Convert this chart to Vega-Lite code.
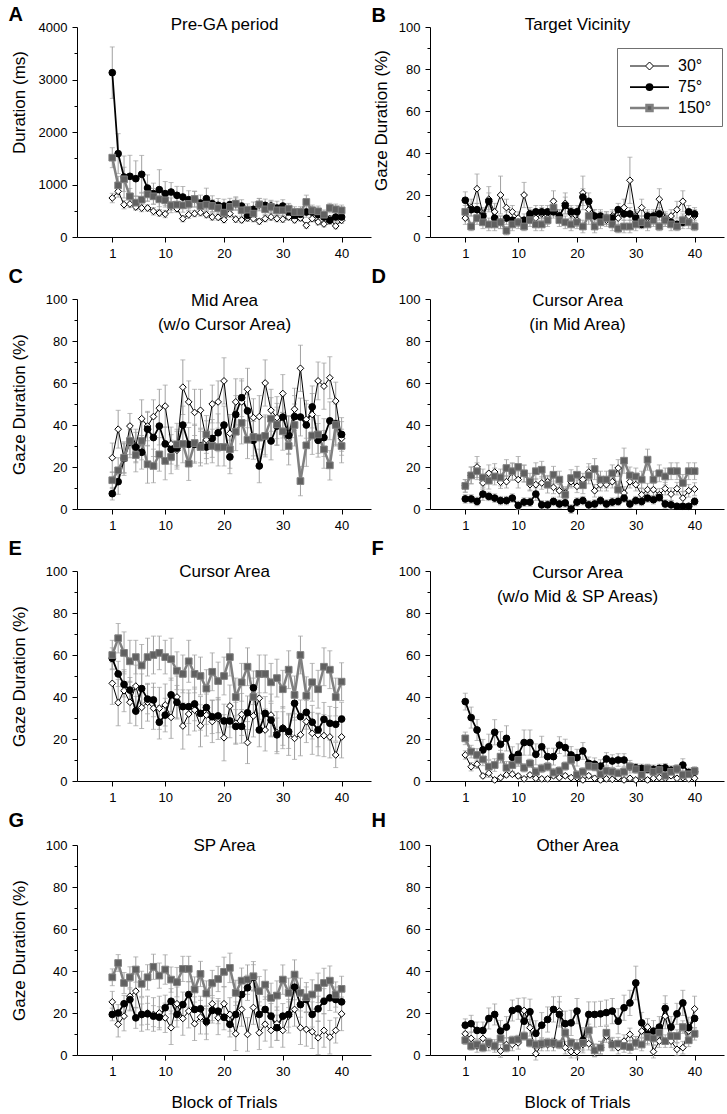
{
"$schema": "https://vega.github.io/schema/vega-lite/v6.json",
"background": "white",
"padding": {"left": 8, "top": 4, "right": 2, "bottom": 0},
"config": {
 "font": "Liberation Sans",
 "view": {"stroke": null},
 "axis": {"grid": false, "domainColor": "#000000", "tickColor": "#000000", "labelColor": "#000000", "titleColor": "#000000", "labelFontSize": 13, "titleFontSize": 17, "titleFontWeight": "normal", "tickSize": 5, "labelPadding": 5, "domainWidth": 1, "tickWidth": 1, "labelFont": "Liberation Sans", "titleFont": "Liberation Sans"}
},
"datasets": {
"A": [
{"s":"30°","b":1,"v":743,"e":90},{"s":"30°","b":2,"v":870,"e":110},{"s":"30°","b":3,"v":616,"e":80},{"s":"30°","b":4,"v":629,"e":70},{"s":"30°","b":5,"v":572,"e":60},{"s":"30°","b":6,"v":552,"e":70},{"s":"30°","b":7,"v":552,"e":60},{"s":"30°","b":8,"v":489,"e":70},{"s":"30°","b":9,"v":457,"e":60},{"s":"30°","b":10,"v":438,"e":70},
{"s":"30°","b":11,"v":590,"e":80},{"s":"30°","b":12,"v":540,"e":70},{"s":"30°","b":13,"v":349,"e":60},{"s":"30°","b":14,"v":425,"e":70},{"s":"30°","b":15,"v":445,"e":60},{"s":"30°","b":16,"v":464,"e":65},{"s":"30°","b":17,"v":425,"e":60},{"s":"30°","b":18,"v":381,"e":60},{"s":"30°","b":19,"v":375,"e":55},{"s":"30°","b":20,"v":330,"e":60},
{"s":"30°","b":21,"v":445,"e":70},{"s":"30°","b":22,"v":337,"e":60},{"s":"30°","b":23,"v":324,"e":55},{"s":"30°","b":24,"v":362,"e":60},{"s":"30°","b":25,"v":349,"e":60},{"s":"30°","b":26,"v":298,"e":55},{"s":"30°","b":27,"v":349,"e":60},{"s":"30°","b":28,"v":381,"e":65},{"s":"30°","b":29,"v":349,"e":60},{"s":"30°","b":30,"v":337,"e":60},
{"s":"30°","b":31,"v":381,"e":60},{"s":"30°","b":32,"v":324,"e":55},{"s":"30°","b":33,"v":362,"e":60},{"s":"30°","b":34,"v":222,"e":55},{"s":"30°","b":35,"v":349,"e":60},{"s":"30°","b":36,"v":286,"e":55},{"s":"30°","b":37,"v":248,"e":55},{"s":"30°","b":38,"v":349,"e":60},{"s":"30°","b":39,"v":210,"e":55},{"s":"30°","b":40,"v":318,"e":60},
{"s":"75°","b":1,"v":3130,"e":490},{"s":"75°","b":2,"v":1588,"e":380},{"s":"75°","b":3,"v":1143,"e":400},{"s":"75°","b":4,"v":1156,"e":400},{"s":"75°","b":5,"v":1111,"e":340},{"s":"75°","b":6,"v":1194,"e":360},{"s":"75°","b":7,"v":933,"e":250},{"s":"75°","b":8,"v":826,"e":200},{"s":"75°","b":9,"v":902,"e":380},{"s":"75°","b":10,"v":826,"e":230},
{"s":"75°","b":11,"v":857,"e":180},{"s":"75°","b":12,"v":794,"e":170},{"s":"75°","b":13,"v":762,"e":200},{"s":"75°","b":14,"v":711,"e":170},{"s":"75°","b":15,"v":718,"e":150},{"s":"75°","b":16,"v":648,"e":150},{"s":"75°","b":17,"v":730,"e":200},{"s":"75°","b":18,"v":635,"e":150},{"s":"75°","b":19,"v":603,"e":130},{"s":"75°","b":20,"v":590,"e":130},
{"s":"75°","b":21,"v":616,"e":120},{"s":"75°","b":22,"v":635,"e":130},{"s":"75°","b":23,"v":590,"e":120},{"s":"75°","b":24,"v":413,"e":110},{"s":"75°","b":25,"v":527,"e":140},{"s":"75°","b":26,"v":616,"e":120},{"s":"75°","b":27,"v":603,"e":120},{"s":"75°","b":28,"v":590,"e":110},{"s":"75°","b":29,"v":552,"e":130},{"s":"75°","b":30,"v":590,"e":120},
{"s":"75°","b":31,"v":476,"e":100},{"s":"75°","b":32,"v":413,"e":100},{"s":"75°","b":33,"v":432,"e":110},{"s":"75°","b":34,"v":476,"e":100},{"s":"75°","b":35,"v":476,"e":100},{"s":"75°","b":36,"v":425,"e":100},{"s":"75°","b":37,"v":381,"e":90},{"s":"75°","b":38,"v":318,"e":80},{"s":"75°","b":39,"v":381,"e":90},{"s":"75°","b":40,"v":381,"e":90},
{"s":"150°","b":1,"v":1511,"e":190},{"s":"150°","b":2,"v":984,"e":170},{"s":"150°","b":3,"v":1099,"e":230},{"s":"150°","b":4,"v":775,"e":150},{"s":"150°","b":5,"v":654,"e":130},{"s":"150°","b":6,"v":711,"e":140},{"s":"150°","b":7,"v":813,"e":130},{"s":"150°","b":8,"v":775,"e":150},{"s":"150°","b":9,"v":718,"e":140},{"s":"150°","b":10,"v":699,"e":130},
{"s":"150°","b":11,"v":603,"e":140},{"s":"150°","b":12,"v":616,"e":130},{"s":"150°","b":13,"v":603,"e":130},{"s":"150°","b":14,"v":629,"e":120},{"s":"150°","b":15,"v":724,"e":150},{"s":"150°","b":16,"v":590,"e":110},{"s":"150°","b":17,"v":616,"e":110},{"s":"150°","b":18,"v":590,"e":120},{"s":"150°","b":19,"v":552,"e":110},{"s":"150°","b":20,"v":464,"e":110},
{"s":"150°","b":21,"v":572,"e":100},{"s":"150°","b":22,"v":635,"e":110},{"s":"150°","b":23,"v":508,"e":110},{"s":"150°","b":24,"v":521,"e":110},{"s":"150°","b":25,"v":445,"e":100},{"s":"150°","b":26,"v":622,"e":110},{"s":"150°","b":27,"v":527,"e":100},{"s":"150°","b":28,"v":572,"e":110},{"s":"150°","b":29,"v":508,"e":100},{"s":"150°","b":30,"v":508,"e":100},
{"s":"150°","b":31,"v":540,"e":100},{"s":"150°","b":32,"v":476,"e":100},{"s":"150°","b":33,"v":476,"e":100},{"s":"150°","b":34,"v":667,"e":130},{"s":"150°","b":35,"v":508,"e":100},{"s":"150°","b":36,"v":489,"e":100},{"s":"150°","b":37,"v":425,"e":90},{"s":"150°","b":38,"v":552,"e":90},{"s":"150°","b":39,"v":527,"e":100},{"s":"150°","b":40,"v":508,"e":100}
],
"B": [
{"s":"30°","b":1,"v":9,"e":3},{"s":"30°","b":2,"v":14,"e":4},{"s":"30°","b":3,"v":23,"e":7},{"s":"30°","b":4,"v":11,"e":3},{"s":"30°","b":5,"v":18,"e":6},{"s":"30°","b":6,"v":12,"e":4},{"s":"30°","b":7,"v":20,"e":9},{"s":"30°","b":8,"v":14,"e":4},{"s":"30°","b":9,"v":12,"e":3},{"s":"30°","b":10,"v":9,"e":3},
{"s":"30°","b":11,"v":20,"e":6},{"s":"30°","b":12,"v":10,"e":3},{"s":"30°","b":13,"v":9,"e":3},{"s":"30°","b":14,"v":11,"e":3},{"s":"30°","b":15,"v":9,"e":3},{"s":"30°","b":16,"v":17,"e":5},{"s":"30°","b":17,"v":10,"e":3},{"s":"30°","b":18,"v":16,"e":5},{"s":"30°","b":19,"v":11,"e":3},{"s":"30°","b":20,"v":8,"e":3},
{"s":"30°","b":21,"v":21,"e":8},{"s":"30°","b":22,"v":13,"e":4},{"s":"30°","b":23,"v":10,"e":3},{"s":"30°","b":24,"v":9,"e":3},{"s":"30°","b":25,"v":8,"e":3},{"s":"30°","b":26,"v":10,"e":3},{"s":"30°","b":27,"v":9,"e":3},{"s":"30°","b":28,"v":14,"e":4},{"s":"30°","b":29,"v":27,"e":11},{"s":"30°","b":30,"v":10,"e":3},
{"s":"30°","b":31,"v":14,"e":4},{"s":"30°","b":32,"v":9,"e":3},{"s":"30°","b":33,"v":9,"e":3},{"s":"30°","b":34,"v":18,"e":5},{"s":"30°","b":35,"v":9,"e":3},{"s":"30°","b":36,"v":10,"e":3},{"s":"30°","b":37,"v":13,"e":4},{"s":"30°","b":38,"v":17,"e":5},{"s":"30°","b":39,"v":10,"e":3},{"s":"30°","b":40,"v":10,"e":3},
{"s":"75°","b":1,"v":17.5,"e":4},{"s":"75°","b":2,"v":13,"e":3},{"s":"75°","b":3,"v":13,"e":3},{"s":"75°","b":4,"v":10,"e":3},{"s":"75°","b":5,"v":17,"e":4},{"s":"75°","b":6,"v":9,"e":3},{"s":"75°","b":7,"v":7,"e":3},{"s":"75°","b":8,"v":9,"e":3},{"s":"75°","b":9,"v":8,"e":3},{"s":"75°","b":10,"v":7,"e":2},
{"s":"75°","b":11,"v":8,"e":3},{"s":"75°","b":12,"v":11,"e":3},{"s":"75°","b":13,"v":12,"e":3},{"s":"75°","b":14,"v":12,"e":3},{"s":"75°","b":15,"v":12,"e":3},{"s":"75°","b":16,"v":12,"e":3},{"s":"75°","b":17,"v":10,"e":3},{"s":"75°","b":18,"v":15,"e":4},{"s":"75°","b":19,"v":12,"e":3},{"s":"75°","b":20,"v":12,"e":3},
{"s":"75°","b":21,"v":19,"e":4},{"s":"75°","b":22,"v":17,"e":4},{"s":"75°","b":23,"v":10,"e":3},{"s":"75°","b":24,"v":10,"e":3},{"s":"75°","b":25,"v":9,"e":3},{"s":"75°","b":26,"v":9,"e":3},{"s":"75°","b":27,"v":13,"e":3},{"s":"75°","b":28,"v":11,"e":3},{"s":"75°","b":29,"v":11,"e":3},{"s":"75°","b":30,"v":9,"e":3},
{"s":"75°","b":31,"v":6,"e":2},{"s":"75°","b":32,"v":10,"e":3},{"s":"75°","b":33,"v":10,"e":3},{"s":"75°","b":34,"v":11,"e":3},{"s":"75°","b":35,"v":8,"e":3},{"s":"75°","b":36,"v":7,"e":2},{"s":"75°","b":37,"v":6,"e":2},{"s":"75°","b":38,"v":7,"e":3},{"s":"75°","b":39,"v":12,"e":3},{"s":"75°","b":40,"v":11,"e":3},
{"s":"150°","b":1,"v":12,"e":3},{"s":"150°","b":2,"v":5,"e":2},{"s":"150°","b":3,"v":9,"e":3},{"s":"150°","b":4,"v":7,"e":3},{"s":"150°","b":5,"v":6,"e":3},{"s":"150°","b":6,"v":6,"e":3},{"s":"150°","b":7,"v":7,"e":3},{"s":"150°","b":8,"v":3,"e":2},{"s":"150°","b":9,"v":6,"e":3},{"s":"150°","b":10,"v":7,"e":3},
{"s":"150°","b":11,"v":5,"e":2},{"s":"150°","b":12,"v":8,"e":3},{"s":"150°","b":13,"v":6,"e":3},{"s":"150°","b":14,"v":6,"e":3},{"s":"150°","b":15,"v":8,"e":3},{"s":"150°","b":16,"v":14,"e":4},{"s":"150°","b":17,"v":8,"e":3},{"s":"150°","b":18,"v":7,"e":3},{"s":"150°","b":19,"v":6,"e":3},{"s":"150°","b":20,"v":7,"e":3},
{"s":"150°","b":21,"v":5,"e":3},{"s":"150°","b":22,"v":10,"e":4},{"s":"150°","b":23,"v":5,"e":3},{"s":"150°","b":24,"v":7,"e":3},{"s":"150°","b":25,"v":9,"e":3},{"s":"150°","b":26,"v":6,"e":3},{"s":"150°","b":27,"v":4,"e":2},{"s":"150°","b":28,"v":5,"e":3},{"s":"150°","b":29,"v":5,"e":3},{"s":"150°","b":30,"v":6,"e":3},
{"s":"150°","b":31,"v":7,"e":3},{"s":"150°","b":32,"v":6,"e":3},{"s":"150°","b":33,"v":8,"e":3},{"s":"150°","b":34,"v":5,"e":2},{"s":"150°","b":35,"v":8,"e":3},{"s":"150°","b":36,"v":6,"e":3},{"s":"150°","b":37,"v":5,"e":2},{"s":"150°","b":38,"v":8,"e":3},{"s":"150°","b":39,"v":7,"e":3},{"s":"150°","b":40,"v":5,"e":2}
],
"C": [
{"s":"30°","b":1,"v":24.4,"e":7},{"s":"30°","b":2,"v":38,"e":9},{"s":"30°","b":3,"v":24,"e":8},{"s":"30°","b":4,"v":39.5,"e":6},{"s":"30°","b":5,"v":30,"e":8},{"s":"30°","b":6,"v":43,"e":9},{"s":"30°","b":7,"v":39.5,"e":7},{"s":"30°","b":8,"v":44,"e":8},{"s":"30°","b":9,"v":48,"e":9},{"s":"30°","b":10,"v":49,"e":10},
{"s":"30°","b":11,"v":31,"e":8},{"s":"30°","b":12,"v":28,"e":9},{"s":"30°","b":13,"v":58,"e":13},{"s":"30°","b":14,"v":51,"e":10},{"s":"30°","b":15,"v":46,"e":11},{"s":"30°","b":16,"v":47,"e":10},{"s":"30°","b":17,"v":33,"e":9},{"s":"30°","b":18,"v":50,"e":9},{"s":"30°","b":19,"v":51,"e":10},{"s":"30°","b":20,"v":61,"e":11},
{"s":"30°","b":21,"v":36,"e":9},{"s":"30°","b":22,"v":51,"e":11},{"s":"30°","b":23,"v":51,"e":10},{"s":"30°","b":24,"v":57,"e":10},{"s":"30°","b":25,"v":43.5,"e":9},{"s":"30°","b":26,"v":44,"e":10},{"s":"30°","b":27,"v":60,"e":11},{"s":"30°","b":28,"v":47,"e":10},{"s":"30°","b":29,"v":43.5,"e":10},{"s":"30°","b":30,"v":55,"e":9},
{"s":"30°","b":31,"v":35.5,"e":9},{"s":"30°","b":32,"v":47.5,"e":10},{"s":"30°","b":33,"v":67,"e":11},{"s":"30°","b":34,"v":42.7,"e":9},{"s":"30°","b":35,"v":45,"e":10},{"s":"30°","b":36,"v":61,"e":9},{"s":"30°","b":37,"v":58.5,"e":11},{"s":"30°","b":38,"v":62.5,"e":10},{"s":"30°","b":39,"v":51.4,"e":9},{"s":"30°","b":40,"v":33.6,"e":8},
{"s":"75°","b":1,"v":7.3,"e":3},{"s":"75°","b":2,"v":13,"e":6},{"s":"75°","b":3,"v":24,"e":7},{"s":"75°","b":4,"v":32,"e":6},{"s":"75°","b":5,"v":29.5,"e":7},{"s":"75°","b":6,"v":27,"e":8},{"s":"75°","b":7,"v":38,"e":8},{"s":"75°","b":8,"v":34,"e":9},{"s":"75°","b":9,"v":39.5,"e":9},{"s":"75°","b":10,"v":31,"e":8},
{"s":"75°","b":11,"v":28.4,"e":7},{"s":"75°","b":12,"v":29,"e":9},{"s":"75°","b":13,"v":40,"e":9},{"s":"75°","b":14,"v":30.8,"e":8},{"s":"75°","b":15,"v":30.8,"e":9},{"s":"75°","b":16,"v":30,"e":8},{"s":"75°","b":17,"v":29.5,"e":8},{"s":"75°","b":18,"v":33.6,"e":9},{"s":"75°","b":19,"v":36.3,"e":9},{"s":"75°","b":20,"v":40,"e":9},
{"s":"75°","b":21,"v":24.8,"e":8},{"s":"75°","b":22,"v":45,"e":9},{"s":"75°","b":23,"v":53,"e":9},{"s":"75°","b":24,"v":46.7,"e":8},{"s":"75°","b":25,"v":32.7,"e":9},{"s":"75°","b":26,"v":20.5,"e":8},{"s":"75°","b":27,"v":34.8,"e":10},{"s":"75°","b":28,"v":32.4,"e":9},{"s":"75°","b":29,"v":39.5,"e":9},{"s":"75°","b":30,"v":43.8,"e":10},
{"s":"75°","b":31,"v":35,"e":9},{"s":"75°","b":32,"v":44,"e":10},{"s":"75°","b":33,"v":43.8,"e":9},{"s":"75°","b":34,"v":40,"e":10},{"s":"75°","b":35,"v":48.6,"e":10},{"s":"75°","b":36,"v":32.7,"e":8},{"s":"75°","b":37,"v":34,"e":9},{"s":"75°","b":38,"v":42,"e":9},{"s":"75°","b":39,"v":40.6,"e":10},{"s":"75°","b":40,"v":35.5,"e":8},
{"s":"150°","b":1,"v":13.7,"e":4},{"s":"150°","b":2,"v":18.4,"e":6},{"s":"150°","b":3,"v":24.4,"e":7},{"s":"150°","b":4,"v":32.4,"e":8},{"s":"150°","b":5,"v":25.7,"e":8},{"s":"150°","b":6,"v":32.4,"e":9},{"s":"150°","b":7,"v":21.3,"e":9},{"s":"150°","b":8,"v":20.5,"e":8},{"s":"150°","b":9,"v":26,"e":8},{"s":"150°","b":10,"v":22.9,"e":9},
{"s":"150°","b":11,"v":24.8,"e":8},{"s":"150°","b":12,"v":30.8,"e":10},{"s":"150°","b":13,"v":31,"e":9},{"s":"150°","b":14,"v":21.6,"e":8},{"s":"150°","b":15,"v":31.4,"e":9},{"s":"150°","b":16,"v":29.5,"e":9},{"s":"150°","b":17,"v":35.5,"e":9},{"s":"150°","b":18,"v":30,"e":8},{"s":"150°","b":19,"v":29.5,"e":9},{"s":"150°","b":20,"v":29.5,"e":9},
{"s":"150°","b":21,"v":28.4,"e":9},{"s":"150°","b":22,"v":36.8,"e":9},{"s":"150°","b":23,"v":41,"e":10},{"s":"150°","b":24,"v":33,"e":9},{"s":"150°","b":25,"v":34.3,"e":9},{"s":"150°","b":26,"v":34,"e":10},{"s":"150°","b":27,"v":34.8,"e":9},{"s":"150°","b":28,"v":43,"e":10},{"s":"150°","b":29,"v":40.3,"e":10},{"s":"150°","b":30,"v":37,"e":9},
{"s":"150°","b":31,"v":30,"e":9},{"s":"150°","b":32,"v":40,"e":10},{"s":"150°","b":33,"v":13.3,"e":7},{"s":"150°","b":34,"v":30.3,"e":10},{"s":"150°","b":35,"v":35,"e":9},{"s":"150°","b":36,"v":35.5,"e":9},{"s":"150°","b":37,"v":28.4,"e":9},{"s":"150°","b":38,"v":20.8,"e":7},{"s":"150°","b":39,"v":40,"e":10},{"s":"150°","b":40,"v":30,"e":8}
],
"D": [
{"s":"30°","b":1,"v":11,"e":3},{"s":"30°","b":2,"v":16,"e":4},{"s":"30°","b":3,"v":20,"e":5},{"s":"30°","b":4,"v":12.4,"e":3},{"s":"30°","b":5,"v":17,"e":4},{"s":"30°","b":6,"v":17.6,"e":4},{"s":"30°","b":7,"v":12.8,"e":3},{"s":"30°","b":8,"v":13,"e":3},{"s":"30°","b":9,"v":17.6,"e":4},{"s":"30°","b":10,"v":14,"e":4},
{"s":"30°","b":11,"v":16.8,"e":4},{"s":"30°","b":12,"v":11.6,"e":3},{"s":"30°","b":13,"v":11.6,"e":3},{"s":"30°","b":14,"v":12.4,"e":3},{"s":"30°","b":15,"v":13,"e":3},{"s":"30°","b":16,"v":10.3,"e":3},{"s":"30°","b":17,"v":8.7,"e":3},{"s":"30°","b":18,"v":7.6,"e":3},{"s":"30°","b":19,"v":13,"e":3},{"s":"30°","b":20,"v":10.8,"e":3},
{"s":"30°","b":21,"v":14,"e":3},{"s":"30°","b":22,"v":17.6,"e":4},{"s":"30°","b":23,"v":8.7,"e":3},{"s":"30°","b":24,"v":11.6,"e":3},{"s":"30°","b":25,"v":11.6,"e":3},{"s":"30°","b":26,"v":13,"e":3},{"s":"30°","b":27,"v":19.5,"e":4},{"s":"30°","b":28,"v":7.6,"e":3},{"s":"30°","b":29,"v":13,"e":3},{"s":"30°","b":30,"v":11.6,"e":3},
{"s":"30°","b":31,"v":6.8,"e":3},{"s":"30°","b":32,"v":9.2,"e":3},{"s":"30°","b":33,"v":9.2,"e":3},{"s":"30°","b":34,"v":6.8,"e":3},{"s":"30°","b":35,"v":9.7,"e":3},{"s":"30°","b":36,"v":7.1,"e":3},{"s":"30°","b":37,"v":9.7,"e":3},{"s":"30°","b":38,"v":5.2,"e":3},{"s":"30°","b":39,"v":8.7,"e":3},{"s":"30°","b":40,"v":9.5,"e":3},
{"s":"75°","b":1,"v":4.8,"e":2},{"s":"75°","b":2,"v":4.8,"e":2},{"s":"75°","b":3,"v":3.6,"e":2},{"s":"75°","b":4,"v":7.1,"e":3},{"s":"75°","b":5,"v":6,"e":2},{"s":"75°","b":6,"v":5.2,"e":2},{"s":"75°","b":7,"v":4,"e":2},{"s":"75°","b":8,"v":4,"e":2},{"s":"75°","b":9,"v":5.2,"e":2},{"s":"75°","b":10,"v":1.7,"e":2},
{"s":"75°","b":11,"v":3.3,"e":2},{"s":"75°","b":12,"v":3.3,"e":2},{"s":"75°","b":13,"v":7.1,"e":3},{"s":"75°","b":14,"v":2,"e":2},{"s":"75°","b":15,"v":2,"e":2},{"s":"75°","b":16,"v":3.6,"e":2},{"s":"75°","b":17,"v":2.4,"e":2},{"s":"75°","b":18,"v":2.9,"e":2},{"s":"75°","b":19,"v":0,"e":2},{"s":"75°","b":20,"v":3.3,"e":2},
{"s":"75°","b":21,"v":4,"e":2},{"s":"75°","b":22,"v":2,"e":2},{"s":"75°","b":23,"v":2.4,"e":2},{"s":"75°","b":24,"v":4,"e":2},{"s":"75°","b":25,"v":2.4,"e":2},{"s":"75°","b":26,"v":3.3,"e":2},{"s":"75°","b":27,"v":3.6,"e":2},{"s":"75°","b":28,"v":5.2,"e":2},{"s":"75°","b":29,"v":2.4,"e":2},{"s":"75°","b":30,"v":4,"e":2},
{"s":"75°","b":31,"v":3.6,"e":2},{"s":"75°","b":32,"v":5.2,"e":2},{"s":"75°","b":33,"v":4.4,"e":2},{"s":"75°","b":34,"v":5.5,"e":2},{"s":"75°","b":35,"v":2.4,"e":2},{"s":"75°","b":36,"v":2,"e":2},{"s":"75°","b":37,"v":1.3,"e":1},{"s":"75°","b":38,"v":1.3,"e":1},{"s":"75°","b":39,"v":1.3,"e":1},{"s":"75°","b":40,"v":3.6,"e":2},
{"s":"150°","b":1,"v":11,"e":3},{"s":"150°","b":2,"v":16,"e":4},{"s":"150°","b":3,"v":18,"e":4},{"s":"150°","b":4,"v":15,"e":4},{"s":"150°","b":5,"v":13.5,"e":4},{"s":"150°","b":6,"v":15.5,"e":4},{"s":"150°","b":7,"v":15,"e":4},{"s":"150°","b":8,"v":19.5,"e":4},{"s":"150°","b":9,"v":18,"e":4},{"s":"150°","b":10,"v":20,"e":5},
{"s":"150°","b":11,"v":17,"e":4},{"s":"150°","b":12,"v":13,"e":4},{"s":"150°","b":13,"v":18,"e":4},{"s":"150°","b":14,"v":18.7,"e":4},{"s":"150°","b":15,"v":11.6,"e":4},{"s":"150°","b":16,"v":16.3,"e":4},{"s":"150°","b":17,"v":14,"e":4},{"s":"150°","b":18,"v":6.8,"e":3},{"s":"150°","b":19,"v":14.7,"e":4},{"s":"150°","b":20,"v":16.3,"e":4},
{"s":"150°","b":21,"v":11.3,"e":4},{"s":"150°","b":22,"v":16,"e":4},{"s":"150°","b":23,"v":19,"e":5},{"s":"150°","b":24,"v":14,"e":4},{"s":"150°","b":25,"v":14,"e":4},{"s":"150°","b":26,"v":17,"e":4},{"s":"150°","b":27,"v":9.2,"e":4},{"s":"150°","b":28,"v":23,"e":6},{"s":"150°","b":29,"v":16,"e":4},{"s":"150°","b":30,"v":15.5,"e":4},
{"s":"150°","b":31,"v":14,"e":4},{"s":"150°","b":32,"v":23.5,"e":5},{"s":"150°","b":33,"v":14,"e":4},{"s":"150°","b":34,"v":17,"e":4},{"s":"150°","b":35,"v":15.5,"e":4},{"s":"150°","b":36,"v":18,"e":4},{"s":"150°","b":37,"v":18,"e":4},{"s":"150°","b":38,"v":12.4,"e":4},{"s":"150°","b":39,"v":18,"e":4},{"s":"150°","b":40,"v":18,"e":4}
],
"E": [
{"s":"30°","b":1,"v":46.5,"e":10},{"s":"30°","b":2,"v":37.3,"e":11},{"s":"30°","b":3,"v":43,"e":10},{"s":"30°","b":4,"v":37.5,"e":10},{"s":"30°","b":5,"v":45.2,"e":10},{"s":"30°","b":6,"v":35,"e":10},{"s":"30°","b":7,"v":37.5,"e":9},{"s":"30°","b":8,"v":34.6,"e":10},{"s":"30°","b":9,"v":34.6,"e":10},{"s":"30°","b":10,"v":36.2,"e":10},
{"s":"30°","b":11,"v":30.3,"e":10},{"s":"30°","b":12,"v":40,"e":10},{"s":"30°","b":13,"v":26.2,"e":11},{"s":"30°","b":14,"v":31.9,"e":10},{"s":"30°","b":15,"v":33.8,"e":10},{"s":"30°","b":16,"v":26.3,"e":10},{"s":"30°","b":17,"v":31.4,"e":10},{"s":"30°","b":18,"v":28.3,"e":10},{"s":"30°","b":19,"v":29.8,"e":10},{"s":"30°","b":20,"v":20.6,"e":11},
{"s":"30°","b":21,"v":35.7,"e":10},{"s":"30°","b":22,"v":27.5,"e":10},{"s":"30°","b":23,"v":31.7,"e":10},{"s":"30°","b":24,"v":18.3,"e":10},{"s":"30°","b":25,"v":31,"e":10},{"s":"30°","b":26,"v":39.4,"e":10},{"s":"30°","b":27,"v":24.3,"e":10},{"s":"30°","b":28,"v":31.4,"e":10},{"s":"30°","b":29,"v":23,"e":10},{"s":"30°","b":30,"v":25.4,"e":10},
{"s":"30°","b":31,"v":22.2,"e":10},{"s":"30°","b":32,"v":20.3,"e":10},{"s":"30°","b":33,"v":22,"e":10},{"s":"30°","b":34,"v":28.3,"e":10},{"s":"30°","b":35,"v":22.7,"e":10},{"s":"30°","b":36,"v":22,"e":10},{"s":"30°","b":37,"v":21.6,"e":10},{"s":"30°","b":38,"v":21,"e":10},{"s":"30°","b":39,"v":12.4,"e":6},{"s":"30°","b":40,"v":21,"e":10},
{"s":"75°","b":1,"v":58.4,"e":5},{"s":"75°","b":2,"v":51,"e":6},{"s":"75°","b":3,"v":46,"e":6},{"s":"75°","b":4,"v":43.3,"e":6},{"s":"75°","b":5,"v":33.3,"e":7},{"s":"75°","b":6,"v":44,"e":7},{"s":"75°","b":7,"v":39,"e":7},{"s":"75°","b":8,"v":38.6,"e":8},{"s":"75°","b":9,"v":28,"e":8},{"s":"75°","b":10,"v":31.4,"e":8},
{"s":"75°","b":11,"v":41,"e":8},{"s":"75°","b":12,"v":37.5,"e":8},{"s":"75°","b":13,"v":35.4,"e":8},{"s":"75°","b":14,"v":35.4,"e":8},{"s":"75°","b":15,"v":36.7,"e":8},{"s":"75°","b":16,"v":32.2,"e":8},{"s":"75°","b":17,"v":35,"e":8},{"s":"75°","b":18,"v":30.6,"e":8},{"s":"75°","b":19,"v":31,"e":8},{"s":"75°","b":20,"v":28.6,"e":8},
{"s":"75°","b":21,"v":28.6,"e":8},{"s":"75°","b":22,"v":26,"e":8},{"s":"75°","b":23,"v":26,"e":8},{"s":"75°","b":24,"v":32.5,"e":8},{"s":"75°","b":25,"v":44.4,"e":8},{"s":"75°","b":26,"v":24.3,"e":8},{"s":"75°","b":27,"v":32.2,"e":8},{"s":"75°","b":28,"v":29,"e":8},{"s":"75°","b":29,"v":22,"e":8},{"s":"75°","b":30,"v":25,"e":8},
{"s":"75°","b":31,"v":23.5,"e":8},{"s":"75°","b":32,"v":37,"e":8},{"s":"75°","b":33,"v":30.6,"e":8},{"s":"75°","b":34,"v":32.7,"e":8},{"s":"75°","b":35,"v":28,"e":8},{"s":"75°","b":36,"v":24.3,"e":8},{"s":"75°","b":37,"v":29.4,"e":8},{"s":"75°","b":38,"v":27.5,"e":8},{"s":"75°","b":39,"v":27,"e":8},{"s":"75°","b":40,"v":29.5,"e":8},
{"s":"150°","b":1,"v":60,"e":7},{"s":"150°","b":2,"v":68,"e":7},{"s":"150°","b":3,"v":61,"e":10},{"s":"150°","b":4,"v":57,"e":10},{"s":"150°","b":5,"v":59,"e":8},{"s":"150°","b":6,"v":55,"e":10},{"s":"150°","b":7,"v":59,"e":9},{"s":"150°","b":8,"v":60,"e":9},{"s":"150°","b":9,"v":61,"e":8},{"s":"150°","b":10,"v":59,"e":8},
{"s":"150°","b":11,"v":58,"e":10},{"s":"150°","b":12,"v":52.5,"e":9},{"s":"150°","b":13,"v":51,"e":9},{"s":"150°","b":14,"v":57,"e":10},{"s":"150°","b":15,"v":51,"e":9},{"s":"150°","b":16,"v":50,"e":9},{"s":"150°","b":17,"v":44,"e":9},{"s":"150°","b":18,"v":52,"e":9},{"s":"150°","b":19,"v":47.6,"e":9},{"s":"150°","b":20,"v":50,"e":9},
{"s":"150°","b":21,"v":59,"e":9},{"s":"150°","b":22,"v":40,"e":9},{"s":"150°","b":23,"v":47,"e":9},{"s":"150°","b":24,"v":54.4,"e":9},{"s":"150°","b":25,"v":40,"e":9},{"s":"150°","b":26,"v":51,"e":9},{"s":"150°","b":27,"v":51,"e":9},{"s":"150°","b":28,"v":47,"e":9},{"s":"150°","b":29,"v":49,"e":9},{"s":"150°","b":30,"v":43.7,"e":9},
{"s":"150°","b":31,"v":53,"e":9},{"s":"150°","b":32,"v":41,"e":9},{"s":"150°","b":33,"v":60,"e":9},{"s":"150°","b":34,"v":40.6,"e":9},{"s":"150°","b":35,"v":47,"e":9},{"s":"150°","b":36,"v":43.7,"e":9},{"s":"150°","b":37,"v":54.4,"e":9},{"s":"150°","b":38,"v":53,"e":9},{"s":"150°","b":39,"v":40,"e":9},{"s":"150°","b":40,"v":47.3,"e":9}
],
"F": [
{"s":"30°","b":1,"v":12.4,"e":2},{"s":"30°","b":2,"v":6.8,"e":2},{"s":"30°","b":3,"v":8,"e":2},{"s":"30°","b":4,"v":2.4,"e":1},{"s":"30°","b":5,"v":3.7,"e":2},{"s":"30°","b":6,"v":0.5,"e":1},{"s":"30°","b":7,"v":1.6,"e":1},{"s":"30°","b":8,"v":2.9,"e":1},{"s":"30°","b":9,"v":3.2,"e":1},{"s":"30°","b":10,"v":2.4,"e":1},
{"s":"30°","b":11,"v":1,"e":1},{"s":"30°","b":12,"v":2.9,"e":1},{"s":"30°","b":13,"v":1.3,"e":1},{"s":"30°","b":14,"v":1,"e":1},{"s":"30°","b":15,"v":1,"e":1},{"s":"30°","b":16,"v":2.5,"e":1},{"s":"30°","b":17,"v":1.6,"e":1},{"s":"30°","b":18,"v":2.5,"e":1},{"s":"30°","b":19,"v":1.6,"e":1},{"s":"30°","b":20,"v":1.6,"e":1},
{"s":"30°","b":21,"v":0.5,"e":1},{"s":"30°","b":22,"v":2.5,"e":1},{"s":"30°","b":23,"v":1.3,"e":1},{"s":"30°","b":24,"v":0.5,"e":1},{"s":"30°","b":25,"v":1,"e":1},{"s":"30°","b":26,"v":0.8,"e":1},{"s":"30°","b":27,"v":1.6,"e":1},{"s":"30°","b":28,"v":0.5,"e":1},{"s":"30°","b":29,"v":1.3,"e":1},{"s":"30°","b":30,"v":0.5,"e":1},
{"s":"30°","b":31,"v":1.6,"e":1},{"s":"30°","b":32,"v":0.5,"e":1},{"s":"30°","b":33,"v":1.3,"e":1},{"s":"30°","b":34,"v":1.6,"e":1},{"s":"30°","b":35,"v":1.3,"e":1},{"s":"30°","b":36,"v":2.5,"e":1},{"s":"30°","b":37,"v":1.3,"e":1},{"s":"30°","b":38,"v":1.6,"e":1},{"s":"30°","b":39,"v":1,"e":1},{"s":"30°","b":40,"v":1.3,"e":1},
{"s":"75°","b":1,"v":37.8,"e":4},{"s":"75°","b":2,"v":30.2,"e":5},{"s":"75°","b":3,"v":24.3,"e":5},{"s":"75°","b":4,"v":14.8,"e":5},{"s":"75°","b":5,"v":16.3,"e":6},{"s":"75°","b":6,"v":23.2,"e":6},{"s":"75°","b":7,"v":17.5,"e":6},{"s":"75°","b":8,"v":20.3,"e":6},{"s":"75°","b":9,"v":11.3,"e":5},{"s":"75°","b":10,"v":12.7,"e":5},
{"s":"75°","b":11,"v":18.3,"e":6},{"s":"75°","b":12,"v":18.3,"e":6},{"s":"75°","b":13,"v":12.7,"e":5},{"s":"75°","b":14,"v":16.3,"e":5},{"s":"75°","b":15,"v":11.6,"e":4},{"s":"75°","b":16,"v":11.6,"e":4},{"s":"75°","b":17,"v":17.1,"e":4},{"s":"75°","b":18,"v":15.9,"e":4},{"s":"75°","b":19,"v":12.4,"e":4},{"s":"75°","b":20,"v":11.1,"e":4},
{"s":"75°","b":21,"v":14.3,"e":4},{"s":"75°","b":22,"v":8.4,"e":3},{"s":"75°","b":23,"v":8,"e":3},{"s":"75°","b":24,"v":7.1,"e":3},{"s":"75°","b":25,"v":10.5,"e":3},{"s":"75°","b":26,"v":9.5,"e":3},{"s":"75°","b":27,"v":10,"e":3},{"s":"75°","b":28,"v":10,"e":3},{"s":"75°","b":29,"v":6.8,"e":3},{"s":"75°","b":30,"v":6.3,"e":2},
{"s":"75°","b":31,"v":6,"e":2},{"s":"75°","b":32,"v":5.6,"e":2},{"s":"75°","b":33,"v":5.6,"e":2},{"s":"75°","b":34,"v":6,"e":2},{"s":"75°","b":35,"v":6.3,"e":2},{"s":"75°","b":36,"v":5.2,"e":2},{"s":"75°","b":37,"v":5.6,"e":2},{"s":"75°","b":38,"v":7.6,"e":3},{"s":"75°","b":39,"v":4.1,"e":2},{"s":"75°","b":40,"v":4.4,"e":2},
{"s":"150°","b":1,"v":20.3,"e":3},{"s":"150°","b":2,"v":14,"e":3},{"s":"150°","b":3,"v":12.4,"e":3},{"s":"150°","b":4,"v":10.3,"e":3},{"s":"150°","b":5,"v":6.8,"e":3},{"s":"150°","b":6,"v":7.6,"e":3},{"s":"150°","b":7,"v":11.6,"e":3},{"s":"150°","b":8,"v":6.3,"e":3},{"s":"150°","b":9,"v":7.6,"e":3},{"s":"150°","b":10,"v":10,"e":3},
{"s":"150°","b":11,"v":6.3,"e":2},{"s":"150°","b":12,"v":8.4,"e":2},{"s":"150°","b":13,"v":4.4,"e":2},{"s":"150°","b":14,"v":6,"e":2},{"s":"150°","b":15,"v":6.8,"e":2},{"s":"150°","b":16,"v":4,"e":2},{"s":"150°","b":17,"v":4.8,"e":2},{"s":"150°","b":18,"v":7.1,"e":2},{"s":"150°","b":19,"v":10,"e":2},{"s":"150°","b":20,"v":2.9,"e":2},
{"s":"150°","b":21,"v":4.4,"e":2},{"s":"150°","b":22,"v":7.1,"e":2},{"s":"150°","b":23,"v":6.8,"e":2},{"s":"150°","b":24,"v":3.2,"e":2},{"s":"150°","b":25,"v":4.8,"e":2},{"s":"150°","b":26,"v":4.4,"e":2},{"s":"150°","b":27,"v":3.7,"e":2},{"s":"150°","b":28,"v":4.4,"e":2},{"s":"150°","b":29,"v":6.8,"e":2},{"s":"150°","b":30,"v":5.6,"e":2},
{"s":"150°","b":31,"v":2.9,"e":2},{"s":"150°","b":32,"v":6,"e":2},{"s":"150°","b":33,"v":4.4,"e":2},{"s":"150°","b":34,"v":5.2,"e":2},{"s":"150°","b":35,"v":2.5,"e":2},{"s":"150°","b":36,"v":4.4,"e":2},{"s":"150°","b":37,"v":5.7,"e":2},{"s":"150°","b":38,"v":2.9,"e":2},{"s":"150°","b":39,"v":3.2,"e":2},{"s":"150°","b":40,"v":4.8,"e":2}
],
"G": [
{"s":"30°","b":1,"v":25.3,"e":5},{"s":"30°","b":2,"v":14.6,"e":6},{"s":"30°","b":3,"v":18.5,"e":7},{"s":"30°","b":4,"v":28,"e":7},{"s":"30°","b":5,"v":30.4,"e":8},{"s":"30°","b":6,"v":19.3,"e":8},{"s":"30°","b":7,"v":20,"e":8},{"s":"30°","b":8,"v":19.3,"e":8},{"s":"30°","b":9,"v":20,"e":8},{"s":"30°","b":10,"v":17.7,"e":7},
{"s":"30°","b":11,"v":13,"e":8},{"s":"30°","b":12,"v":24.4,"e":8},{"s":"30°","b":13,"v":17.4,"e":8},{"s":"30°","b":14,"v":20.9,"e":8},{"s":"30°","b":15,"v":14.9,"e":8},{"s":"30°","b":16,"v":18,"e":8},{"s":"30°","b":17,"v":15.3,"e":8},{"s":"30°","b":18,"v":24.4,"e":8},{"s":"30°","b":19,"v":17.7,"e":8},{"s":"30°","b":20,"v":24.4,"e":8},
{"s":"30°","b":21,"v":19.3,"e":8},{"s":"30°","b":22,"v":10.1,"e":8},{"s":"30°","b":23,"v":21.7,"e":8},{"s":"30°","b":24,"v":9.8,"e":8},{"s":"30°","b":25,"v":22.6,"e":8},{"s":"30°","b":26,"v":10.6,"e":8},{"s":"30°","b":27,"v":14.6,"e":8},{"s":"30°","b":28,"v":11.7,"e":8},{"s":"30°","b":29,"v":14.9,"e":8},{"s":"30°","b":30,"v":11.7,"e":8},
{"s":"30°","b":31,"v":18.5,"e":8},{"s":"30°","b":32,"v":21.7,"e":8},{"s":"30°","b":33,"v":13,"e":8},{"s":"30°","b":34,"v":12.2,"e":8},{"s":"30°","b":35,"v":11.1,"e":8},{"s":"30°","b":36,"v":8.2,"e":8},{"s":"30°","b":37,"v":11.7,"e":8},{"s":"30°","b":38,"v":8.5,"e":8},{"s":"30°","b":39,"v":11.7,"e":6},{"s":"30°","b":40,"v":19.6,"e":8},
{"s":"75°","b":1,"v":19.3,"e":3},{"s":"75°","b":2,"v":20,"e":4},{"s":"75°","b":3,"v":24.4,"e":4},{"s":"75°","b":4,"v":26.4,"e":5},{"s":"75°","b":5,"v":17.7,"e":5},{"s":"75°","b":6,"v":19.3,"e":5},{"s":"75°","b":7,"v":19.6,"e":5},{"s":"75°","b":8,"v":18.5,"e":5},{"s":"75°","b":9,"v":18,"e":5},{"s":"75°","b":10,"v":22.5,"e":6},
{"s":"75°","b":11,"v":25.6,"e":6},{"s":"75°","b":12,"v":19.3,"e":6},{"s":"75°","b":13,"v":24,"e":6},{"s":"75°","b":14,"v":28.8,"e":6},{"s":"75°","b":15,"v":21.7,"e":6},{"s":"75°","b":16,"v":22,"e":6},{"s":"75°","b":17,"v":16,"e":6},{"s":"75°","b":18,"v":21.2,"e":6},{"s":"75°","b":19,"v":20.9,"e":6},{"s":"75°","b":20,"v":18,"e":6},
{"s":"75°","b":21,"v":14.6,"e":6},{"s":"75°","b":22,"v":19.3,"e":6},{"s":"75°","b":23,"v":28.8,"e":6},{"s":"75°","b":24,"v":32,"e":6},{"s":"75°","b":25,"v":37,"e":6},{"s":"75°","b":26,"v":19.3,"e":6},{"s":"75°","b":27,"v":21.7,"e":6},{"s":"75°","b":28,"v":18.5,"e":6},{"s":"75°","b":29,"v":13,"e":6},{"s":"75°","b":30,"v":18.5,"e":6},
{"s":"75°","b":31,"v":19.3,"e":6},{"s":"75°","b":32,"v":32.3,"e":6},{"s":"75°","b":33,"v":24,"e":6},{"s":"75°","b":34,"v":26.4,"e":6},{"s":"75°","b":35,"v":19.3,"e":6},{"s":"75°","b":36,"v":22,"e":6},{"s":"75°","b":37,"v":25.6,"e":6},{"s":"75°","b":38,"v":27.2,"e":6},{"s":"75°","b":39,"v":26.4,"e":6},{"s":"75°","b":40,"v":25.3,"e":6},
{"s":"150°","b":1,"v":37,"e":4},{"s":"150°","b":2,"v":43.8,"e":4},{"s":"150°","b":3,"v":34.3,"e":5},{"s":"150°","b":4,"v":37,"e":5},{"s":"150°","b":5,"v":40.7,"e":6},{"s":"150°","b":6,"v":33.9,"e":6},{"s":"150°","b":7,"v":37,"e":6},{"s":"150°","b":8,"v":42,"e":6},{"s":"150°","b":9,"v":37.8,"e":6},{"s":"150°","b":10,"v":40.7,"e":7},
{"s":"150°","b":11,"v":35.9,"e":6},{"s":"150°","b":12,"v":34.7,"e":7},{"s":"150°","b":13,"v":41,"e":6},{"s":"150°","b":14,"v":41,"e":6},{"s":"150°","b":15,"v":31.2,"e":6},{"s":"150°","b":16,"v":38.6,"e":6},{"s":"150°","b":17,"v":29.3,"e":6},{"s":"150°","b":18,"v":34.3,"e":6},{"s":"150°","b":19,"v":36.2,"e":6},{"s":"150°","b":20,"v":39.6,"e":7},
{"s":"150°","b":21,"v":41.5,"e":7},{"s":"150°","b":22,"v":29.6,"e":6},{"s":"150°","b":23,"v":35.4,"e":6},{"s":"150°","b":24,"v":35.9,"e":7},{"s":"150°","b":25,"v":37.5,"e":7},{"s":"150°","b":26,"v":30.4,"e":7},{"s":"150°","b":27,"v":33.5,"e":7},{"s":"150°","b":28,"v":27.2,"e":7},{"s":"150°","b":29,"v":28.3,"e":7},{"s":"150°","b":30,"v":35.9,"e":7},
{"s":"150°","b":31,"v":29.6,"e":7},{"s":"150°","b":32,"v":38.3,"e":7},{"s":"150°","b":33,"v":29.6,"e":7},{"s":"150°","b":34,"v":27.5,"e":7},{"s":"150°","b":35,"v":28.8,"e":7},{"s":"150°","b":36,"v":32,"e":7},{"s":"150°","b":37,"v":34.3,"e":7},{"s":"150°","b":38,"v":35.4,"e":7},{"s":"150°","b":39,"v":28.8,"e":6},{"s":"150°","b":40,"v":31.5,"e":6}
],
"H": [
{"s":"30°","b":1,"v":10.1,"e":3},{"s":"30°","b":2,"v":7.9,"e":3},{"s":"30°","b":3,"v":4.3,"e":3},{"s":"30°","b":4,"v":7.9,"e":3},{"s":"30°","b":5,"v":5,"e":3},{"s":"30°","b":6,"v":4.3,"e":3},{"s":"30°","b":7,"v":1.9,"e":3},{"s":"30°","b":8,"v":5,"e":3},{"s":"30°","b":9,"v":5,"e":3},{"s":"30°","b":10,"v":5.8,"e":3},
{"s":"30°","b":11,"v":21.2,"e":6},{"s":"30°","b":12,"v":13,"e":4},{"s":"30°","b":13,"v":0.6,"e":3},{"s":"30°","b":14,"v":5,"e":3},{"s":"30°","b":15,"v":5,"e":3},{"s":"30°","b":16,"v":5,"e":3},{"s":"30°","b":17,"v":20.9,"e":7},{"s":"30°","b":18,"v":3.5,"e":3},{"s":"30°","b":19,"v":1.6,"e":3},{"s":"30°","b":20,"v":1.6,"e":3},
{"s":"30°","b":21,"v":5,"e":3},{"s":"30°","b":22,"v":5.4,"e":3},{"s":"30°","b":23,"v":2.2,"e":3},{"s":"30°","b":24,"v":3.5,"e":3},{"s":"30°","b":25,"v":9,"e":3},{"s":"30°","b":26,"v":5.4,"e":3},{"s":"30°","b":27,"v":3.5,"e":3},{"s":"30°","b":28,"v":6.6,"e":3},{"s":"30°","b":29,"v":9.8,"e":3},{"s":"30°","b":30,"v":5.8,"e":3},
{"s":"30°","b":31,"v":11.4,"e":3},{"s":"30°","b":32,"v":13.3,"e":4},{"s":"30°","b":33,"v":1.6,"e":3},{"s":"30°","b":34,"v":6.6,"e":3},{"s":"30°","b":35,"v":18.5,"e":6},{"s":"30°","b":36,"v":6.6,"e":3},{"s":"30°","b":37,"v":2.7,"e":3},{"s":"30°","b":38,"v":3.5,"e":3},{"s":"30°","b":39,"v":11.4,"e":4},{"s":"30°","b":40,"v":22,"e":6},
{"s":"75°","b":1,"v":14.2,"e":3},{"s":"75°","b":2,"v":14.9,"e":4},{"s":"75°","b":3,"v":11.7,"e":4},{"s":"75°","b":4,"v":11.7,"e":4},{"s":"75°","b":5,"v":17.4,"e":5},{"s":"75°","b":6,"v":19.3,"e":5},{"s":"75°","b":7,"v":11.4,"e":5},{"s":"75°","b":8,"v":13.3,"e":5},{"s":"75°","b":9,"v":21.2,"e":5},{"s":"75°","b":10,"v":22,"e":5},
{"s":"75°","b":11,"v":16.1,"e":6},{"s":"75°","b":12,"v":20.6,"e":6},{"s":"75°","b":13,"v":10.3,"e":6},{"s":"75°","b":14,"v":14.2,"e":6},{"s":"75°","b":15,"v":16.9,"e":6},{"s":"75°","b":16,"v":21.7,"e":6},{"s":"75°","b":17,"v":19.3,"e":6},{"s":"75°","b":18,"v":14.9,"e":6},{"s":"75°","b":19,"v":15.3,"e":6},{"s":"75°","b":20,"v":20.9,"e":6},
{"s":"75°","b":21,"v":7,"e":6},{"s":"75°","b":22,"v":19.3,"e":6},{"s":"75°","b":23,"v":19.3,"e":6},{"s":"75°","b":24,"v":19.6,"e":6},{"s":"75°","b":25,"v":20.2,"e":6},{"s":"75°","b":26,"v":20.9,"e":6},{"s":"75°","b":27,"v":16.1,"e":6},{"s":"75°","b":28,"v":22.5,"e":6},{"s":"75°","b":29,"v":24.8,"e":6},{"s":"75°","b":30,"v":34.3,"e":8},
{"s":"75°","b":31,"v":15.3,"e":5},{"s":"75°","b":32,"v":9.8,"e":5},{"s":"75°","b":33,"v":11.4,"e":5},{"s":"75°","b":34,"v":13.3,"e":5},{"s":"75°","b":35,"v":22.2,"e":6},{"s":"75°","b":36,"v":13.3,"e":5},{"s":"75°","b":37,"v":19.6,"e":5},{"s":"75°","b":38,"v":24.8,"e":6},{"s":"75°","b":39,"v":13,"e":5},{"s":"75°","b":40,"v":17.4,"e":5},
{"s":"150°","b":1,"v":7,"e":2},{"s":"150°","b":2,"v":4.3,"e":2},{"s":"150°","b":3,"v":5,"e":2},{"s":"150°","b":4,"v":3.5,"e":2},{"s":"150°","b":5,"v":5.8,"e":2},{"s":"150°","b":6,"v":4.3,"e":2},{"s":"150°","b":7,"v":7.9,"e":2},{"s":"150°","b":8,"v":3.5,"e":2},{"s":"150°","b":9,"v":7,"e":2},{"s":"150°","b":10,"v":7.4,"e":2},
{"s":"150°","b":11,"v":9,"e":2},{"s":"150°","b":12,"v":5.8,"e":2},{"s":"150°","b":13,"v":5,"e":2},{"s":"150°","b":14,"v":5.4,"e":2},{"s":"150°","b":15,"v":5.8,"e":2},{"s":"150°","b":16,"v":5.8,"e":2},{"s":"150°","b":17,"v":5,"e":2},{"s":"150°","b":18,"v":10.6,"e":2},{"s":"150°","b":19,"v":5.8,"e":2},{"s":"150°","b":20,"v":4.3,"e":3},
{"s":"150°","b":21,"v":5.8,"e":3},{"s":"150°","b":22,"v":11.7,"e":3},{"s":"150°","b":23,"v":2.2,"e":3},{"s":"150°","b":24,"v":3.5,"e":3},{"s":"150°","b":25,"v":10.6,"e":3},{"s":"150°","b":26,"v":5,"e":3},{"s":"150°","b":27,"v":5.4,"e":3},{"s":"150°","b":28,"v":4.3,"e":3},{"s":"150°","b":29,"v":3.8,"e":3},{"s":"150°","b":30,"v":5.8,"e":3},
{"s":"150°","b":31,"v":5,"e":3},{"s":"150°","b":32,"v":8.5,"e":3},{"s":"150°","b":33,"v":7.9,"e":3},{"s":"150°","b":34,"v":10.6,"e":3},{"s":"150°","b":35,"v":6.6,"e":3},{"s":"150°","b":36,"v":9,"e":3},{"s":"150°","b":37,"v":9,"e":3},{"s":"150°","b":38,"v":13.3,"e":3},{"s":"150°","b":39,"v":7,"e":3},{"s":"150°","b":40,"v":10.1,"e":3}
]
},
"spacing": 6,
"resolve": {"scale": {"shape": "independent", "fill": "independent", "stroke": "independent", "strokeWidth": "independent"}},
"vconcat": [
{"hconcat": [
 {"data": {"name": "A"}, "width": 294, "height": 210,
  "resolve": {"axis": {"x": "independent"}},
  "encoding": {"y": {"field": "v", "type": "quantitative", "scale": {"domain": [0, 4000], "nice": false}, "title": "Duration (ms)", "axis": {"values": [0,500,1000,1500,2000,2500,3000,3500,4000], "format": "d", "labelExpr": "datum.value % 1000 == 0 ? datum.label : ''", "tickSize": {"condition": {"test": "datum.value % 1000 != 0", "value": 3}, "value": 5}, "labelOverlap": false, "titlePadding": 10, "titleY": 75}}},
  "layer": [
   {"mark": {"type": "errorbar", "ticks": true, "color": "#a0a0a0", "thickness": 1}, "encoding": {"x": {"field": "b", "type": "quantitative", "scale": {"domain": [-5, 45], "nice": false}, "axis": {"values": [1,10,20,30,40], "title": null}}, "yError": {"field": "e"}}},
   {"mark": {"type": "line"}, "encoding": {"x": {"field": "b", "type": "quantitative", "axis": {"orient": "top", "title": "Pre-GA period", "domain": false, "ticks": false, "labels": false, "titleX": 147, "titleY": 2, "titleAlign": "center", "titleBaseline": "alphabetic"}}, "stroke": {"field": "s", "type": "nominal", "scale": {"domain": ["30°","75°","150°"], "range": ["#000000","#000000","#808080"]}, "legend": null}, "strokeWidth": {"field": "s", "type": "ordinal", "scale": {"domain": ["30°","75°","150°"], "range": [1, 2.5, 2]}, "legend": null}}},
   {"mark": {"type": "point", "opacity": 1, "size": 45, "strokeWidth": 1}, "encoding": {"x": {"field": "b", "type": "quantitative", "axis": {"orient": "top", "title": "A", "domain": false, "ticks": false, "labels": false, "titleX": -69, "titleY": -7, "titleAlign": "left", "titleBaseline": "alphabetic", "titleFontSize": 20, "titleFontWeight": "bold"}}, "shape": {"field": "s", "type": "nominal", "scale": {"domain": ["30°","75°","150°"], "range": ["diamond","circle","square"]}, "legend": null}, "fill": {"field": "s", "type": "nominal", "scale": {"domain": ["30°","75°","150°"], "range": ["#ffffff","#000000","#606060"]}, "legend": null}, "stroke": {"field": "s", "type": "nominal", "scale": {"domain": ["30°","75°","150°"], "range": ["#000000","#000000","#808080"]}, "legend": null}}}
  ]},
 {"data": {"name": "B"}, "width": 294, "height": 210,
  "resolve": {"axis": {"x": "independent"}, "scale": {"shape": "independent", "fill": "independent", "stroke": "independent", "strokeWidth": "independent"}},
  "encoding": {"y": {"field": "v", "type": "quantitative", "scale": {"domain": [0, 100], "nice": false}, "title": "Gaze Duration (%)", "axis": {"values": [0,10,20,30,40,50,60,70,80,90,100], "labelExpr": "datum.value % 20 == 0 ? datum.label : ''", "tickSize": {"condition": {"test": "datum.value % 20 != 0", "value": 3}, "value": 5}, "labelOverlap": false, "titlePadding": 8, "titleY": 93}}},
  "layer": [
   {"mark": {"type": "errorbar", "ticks": true, "color": "#a0a0a0", "thickness": 1}, "encoding": {"x": {"field": "b", "type": "quantitative", "scale": {"domain": [-5, 45], "nice": false}, "axis": {"values": [1,10,20,30,40], "title": null}}, "yError": {"field": "e"}}},
   {"mark": {"type": "line"}, "encoding": {"x": {"field": "b", "type": "quantitative", "axis": {"orient": "top", "title": "Target Vicinity", "domain": false, "ticks": false, "labels": false, "titleX": 147, "titleY": 2, "titleAlign": "center", "titleBaseline": "alphabetic"}}, "stroke": {"field": "s", "type": "nominal", "scale": {"domain": ["30°","75°","150°"], "range": ["#000000","#000000","#808080"]}, "legend": null}, "strokeWidth": {"field": "s", "type": "ordinal", "scale": {"domain": ["30°","75°","150°"], "range": [1, 2.5, 2]}, "legend": null}}},
   {"mark": {"type": "point", "opacity": 1, "size": 45, "strokeWidth": 1}, "encoding": {"x": {"field": "b", "type": "quantitative", "axis": {"orient": "top", "title": "B", "domain": false, "ticks": false, "labels": false, "titleX": -59, "titleY": -6, "titleAlign": "left", "titleBaseline": "alphabetic", "titleFontSize": 20, "titleFontWeight": "bold"}}, "shape": {"field": "s", "type": "nominal", "scale": {"domain": ["30°","75°","150°"], "range": ["diamond","circle","square"]}, "legend": null}, "fill": {"field": "s", "type": "nominal", "scale": {"domain": ["30°","75°","150°"], "range": ["#ffffff","#000000","#606060"]}, "legend": null}, "stroke": {"field": "s", "type": "nominal", "scale": {"domain": ["30°","75°","150°"], "range": ["#000000","#000000","#808080"]}, "legend": null}}},
   {"transform": [{"filter": "false"}],
    "mark": {"type": "point", "opacity": 1, "size": 100},
    "encoding": {"x": {"field": "b", "type": "quantitative", "axis": null},
     "shape": {"field": "s", "type": "nominal", "scale": {"domain": ["30°","75°","150°"], "range": ["M-1,0H2.1M3.7,0H6.8M2.9,-0.8L3.7,0L2.9,0.8L2.1,0Z", "M-1,0H6.8M3.5,0A0.6,0.6,0,1,1,2.3,0A0.6,0.6,0,1,1,3.5,0Z", "M-1,0H2.3M3.5,0H6.8M2.3,-0.6H3.5V0.6H2.3Z"]}, "legend": {"title": null, "orient": "none", "legendX": 187, "legendY": 21, "padding": 10, "rowPadding": 5, "labelOffset": 35, "symbolSize": 100, "strokeColor": "#707070", "fillColor": "#ffffff", "labelFontSize": 16, "labelColor": "#000000", "labelFont": "Liberation Sans"}},
     "fill": {"field": "s", "type": "nominal", "scale": {"domain": ["30°","75°","150°"], "range": ["#ffffff","#000000","#606060"]}, "legend": {"title": null}},
     "stroke": {"field": "s", "type": "nominal", "scale": {"domain": ["30°","75°","150°"], "range": ["#000000","#000000","#808080"]}, "legend": {"title": null}},
     "strokeWidth": {"field": "s", "type": "ordinal", "scale": {"domain": ["30°","75°","150°"], "range": [1, 2.5, 2]}, "legend": {"title": null}}}}
  ]}
], "spacing": 0, "resolve": {"scale": {"shape": "independent", "fill": "independent", "stroke": "independent", "strokeWidth": "independent"}}},
{"hconcat": [
 {"data": {"name": "C"}, "width": 294, "height": 210,
  "resolve": {"axis": {"x": "independent"}},
  "encoding": {"y": {"field": "v", "type": "quantitative", "scale": {"domain": [0, 100], "nice": false}, "title": "Gaze Duration (%)", "axis": {"values": [0,10,20,30,40,50,60,70,80,90,100], "labelExpr": "datum.value % 20 == 0 ? datum.label : ''", "tickSize": {"condition": {"test": "datum.value % 20 != 0", "value": 3}, "value": 5}, "labelOverlap": false, "titlePadding": 17}}},
  "layer": [
   {"mark": {"type": "errorbar", "ticks": true, "color": "#a0a0a0", "thickness": 1}, "encoding": {"x": {"field": "b", "type": "quantitative", "scale": {"domain": [-5, 45], "nice": false}, "axis": {"values": [1,10,20,30,40], "title": null}}, "yError": {"field": "e"}}},
   {"mark": {"type": "line"}, "encoding": {"x": {"field": "b", "type": "quantitative", "axis": {"orient": "top", "title": ["Mid Area", "(w/o Cursor Area)"], "titleLineHeight": 24, "domain": false, "ticks": false, "labels": false, "titleX": 147, "titleY": 6, "titleAlign": "center", "titleBaseline": "alphabetic"}}, "stroke": {"field": "s", "type": "nominal", "scale": {"domain": ["30°","75°","150°"], "range": ["#000000","#000000","#808080"]}, "legend": null}, "strokeWidth": {"field": "s", "type": "ordinal", "scale": {"domain": ["30°","75°","150°"], "range": [1, 2.5, 2]}, "legend": null}}},
   {"mark": {"type": "point", "opacity": 1, "size": 45, "strokeWidth": 1}, "encoding": {"x": {"field": "b", "type": "quantitative", "axis": {"orient": "top", "title": "C", "domain": false, "ticks": false, "labels": false, "titleX": -69, "titleY": -17, "titleAlign": "left", "titleBaseline": "alphabetic", "titleFontSize": 20, "titleFontWeight": "bold"}}, "shape": {"field": "s", "type": "nominal", "scale": {"domain": ["30°","75°","150°"], "range": ["diamond","circle","square"]}, "legend": null}, "fill": {"field": "s", "type": "nominal", "scale": {"domain": ["30°","75°","150°"], "range": ["#ffffff","#000000","#606060"]}, "legend": null}, "stroke": {"field": "s", "type": "nominal", "scale": {"domain": ["30°","75°","150°"], "range": ["#000000","#000000","#808080"]}, "legend": null}}}
  ]},
 {"data": {"name": "D"}, "width": 294, "height": 210,
  "resolve": {"axis": {"x": "independent"}},
  "encoding": {"y": {"field": "v", "type": "quantitative", "scale": {"domain": [0, 100], "nice": false}, "title": " ", "axis": {"values": [0,10,20,30,40,50,60,70,80,90,100], "labelExpr": "datum.value % 20 == 0 ? datum.label : ''", "tickSize": {"condition": {"test": "datum.value % 20 != 0", "value": 3}, "value": 5}, "labelOverlap": false, "titlePadding": 8}}},
  "layer": [
   {"mark": {"type": "errorbar", "ticks": true, "color": "#a0a0a0", "thickness": 1}, "encoding": {"x": {"field": "b", "type": "quantitative", "scale": {"domain": [-5, 45], "nice": false}, "axis": {"values": [1,10,20,30,40], "title": null}}, "yError": {"field": "e"}}},
   {"mark": {"type": "line"}, "encoding": {"x": {"field": "b", "type": "quantitative", "axis": {"orient": "top", "title": ["Cursor Area", "(in Mid Area)"], "titleLineHeight": 24, "domain": false, "ticks": false, "labels": false, "titleX": 147, "titleY": 6, "titleAlign": "center", "titleBaseline": "alphabetic"}}, "stroke": {"field": "s", "type": "nominal", "scale": {"domain": ["30°","75°","150°"], "range": ["#000000","#000000","#808080"]}, "legend": null}, "strokeWidth": {"field": "s", "type": "ordinal", "scale": {"domain": ["30°","75°","150°"], "range": [1, 2.5, 2]}, "legend": null}}},
   {"mark": {"type": "point", "opacity": 1, "size": 45, "strokeWidth": 1}, "encoding": {"x": {"field": "b", "type": "quantitative", "axis": {"orient": "top", "title": "D", "domain": false, "ticks": false, "labels": false, "titleX": -59, "titleY": -17, "titleAlign": "left", "titleBaseline": "alphabetic", "titleFontSize": 20, "titleFontWeight": "bold"}}, "shape": {"field": "s", "type": "nominal", "scale": {"domain": ["30°","75°","150°"], "range": ["diamond","circle","square"]}, "legend": null}, "fill": {"field": "s", "type": "nominal", "scale": {"domain": ["30°","75°","150°"], "range": ["#ffffff","#000000","#606060"]}, "legend": null}, "stroke": {"field": "s", "type": "nominal", "scale": {"domain": ["30°","75°","150°"], "range": ["#000000","#000000","#808080"]}, "legend": null}}}
  ]}
], "spacing": 0, "resolve": {"scale": {"shape": "independent", "fill": "independent", "stroke": "independent", "strokeWidth": "independent"}}},
{"hconcat": [
 {"data": {"name": "E"}, "width": 294, "height": 210,
  "resolve": {"axis": {"x": "independent"}},
  "encoding": {"y": {"field": "v", "type": "quantitative", "scale": {"domain": [0, 100], "nice": false}, "title": "Gaze Duration (%)", "axis": {"values": [0,10,20,30,40,50,60,70,80,90,100], "labelExpr": "datum.value % 20 == 0 ? datum.label : ''", "tickSize": {"condition": {"test": "datum.value % 20 != 0", "value": 3}, "value": 5}, "labelOverlap": false, "titlePadding": 17}}},
  "layer": [
   {"mark": {"type": "errorbar", "ticks": true, "color": "#a0a0a0", "thickness": 1}, "encoding": {"x": {"field": "b", "type": "quantitative", "scale": {"domain": [-5, 45], "nice": false}, "axis": {"values": [1,10,20,30,40], "title": null}}, "yError": {"field": "e"}}},
   {"mark": {"type": "line"}, "encoding": {"x": {"field": "b", "type": "quantitative", "axis": {"orient": "top", "title": "Cursor Area", "domain": false, "ticks": false, "labels": false, "titleX": 147, "titleY": 5, "titleAlign": "center", "titleBaseline": "alphabetic"}}, "stroke": {"field": "s", "type": "nominal", "scale": {"domain": ["30°","75°","150°"], "range": ["#000000","#000000","#808080"]}, "legend": null}, "strokeWidth": {"field": "s", "type": "ordinal", "scale": {"domain": ["30°","75°","150°"], "range": [1, 2.5, 2]}, "legend": null}}},
   {"mark": {"type": "point", "opacity": 1, "size": 45, "strokeWidth": 1}, "encoding": {"x": {"field": "b", "type": "quantitative", "axis": {"orient": "top", "title": "E", "domain": false, "ticks": false, "labels": false, "titleX": -69, "titleY": -17, "titleAlign": "left", "titleBaseline": "alphabetic", "titleFontSize": 20, "titleFontWeight": "bold"}}, "shape": {"field": "s", "type": "nominal", "scale": {"domain": ["30°","75°","150°"], "range": ["diamond","circle","square"]}, "legend": null}, "fill": {"field": "s", "type": "nominal", "scale": {"domain": ["30°","75°","150°"], "range": ["#ffffff","#000000","#606060"]}, "legend": null}, "stroke": {"field": "s", "type": "nominal", "scale": {"domain": ["30°","75°","150°"], "range": ["#000000","#000000","#808080"]}, "legend": null}}}
  ]},
 {"data": {"name": "F"}, "width": 294, "height": 210,
  "resolve": {"axis": {"x": "independent"}},
  "encoding": {"y": {"field": "v", "type": "quantitative", "scale": {"domain": [0, 100], "nice": false}, "title": " ", "axis": {"values": [0,10,20,30,40,50,60,70,80,90,100], "labelExpr": "datum.value % 20 == 0 ? datum.label : ''", "tickSize": {"condition": {"test": "datum.value % 20 != 0", "value": 3}, "value": 5}, "labelOverlap": false, "titlePadding": 8}}},
  "layer": [
   {"mark": {"type": "errorbar", "ticks": true, "color": "#a0a0a0", "thickness": 1}, "encoding": {"x": {"field": "b", "type": "quantitative", "scale": {"domain": [-5, 45], "nice": false}, "axis": {"values": [1,10,20,30,40], "title": null}}, "yError": {"field": "e"}}},
   {"mark": {"type": "line"}, "encoding": {"x": {"field": "b", "type": "quantitative", "axis": {"orient": "top", "title": ["Cursor Area", "(w/o Mid & SP Areas)"], "titleLineHeight": 24, "domain": false, "ticks": false, "labels": false, "titleX": 147, "titleY": 6, "titleAlign": "center", "titleBaseline": "alphabetic"}}, "stroke": {"field": "s", "type": "nominal", "scale": {"domain": ["30°","75°","150°"], "range": ["#000000","#000000","#808080"]}, "legend": null}, "strokeWidth": {"field": "s", "type": "ordinal", "scale": {"domain": ["30°","75°","150°"], "range": [1, 2.5, 2]}, "legend": null}}},
   {"mark": {"type": "point", "opacity": 1, "size": 45, "strokeWidth": 1}, "encoding": {"x": {"field": "b", "type": "quantitative", "axis": {"orient": "top", "title": "F", "domain": false, "ticks": false, "labels": false, "titleX": -59, "titleY": -17, "titleAlign": "left", "titleBaseline": "alphabetic", "titleFontSize": 20, "titleFontWeight": "bold"}}, "shape": {"field": "s", "type": "nominal", "scale": {"domain": ["30°","75°","150°"], "range": ["diamond","circle","square"]}, "legend": null}, "fill": {"field": "s", "type": "nominal", "scale": {"domain": ["30°","75°","150°"], "range": ["#ffffff","#000000","#606060"]}, "legend": null}, "stroke": {"field": "s", "type": "nominal", "scale": {"domain": ["30°","75°","150°"], "range": ["#000000","#000000","#808080"]}, "legend": null}}}
  ]}
], "spacing": 0, "resolve": {"scale": {"shape": "independent", "fill": "independent", "stroke": "independent", "strokeWidth": "independent"}}},
{"hconcat": [
 {"data": {"name": "G"}, "width": 294, "height": 210,
  "resolve": {"axis": {"x": "independent"}},
  "encoding": {"y": {"field": "v", "type": "quantitative", "scale": {"domain": [0, 100], "nice": false}, "title": "Gaze Duration (%)", "axis": {"values": [0,10,20,30,40,50,60,70,80,90,100], "labelExpr": "datum.value % 20 == 0 ? datum.label : ''", "tickSize": {"condition": {"test": "datum.value % 20 != 0", "value": 3}, "value": 5}, "labelOverlap": false, "titlePadding": 17}}},
  "layer": [
   {"mark": {"type": "errorbar", "ticks": true, "color": "#a0a0a0", "thickness": 1}, "encoding": {"x": {"field": "b", "type": "quantitative", "scale": {"domain": [-5, 45], "nice": false}, "axis": {"values": [1,10,20,30,40], "title": "Block of Trials", "titlePadding": 16}}, "yError": {"field": "e"}}},
   {"mark": {"type": "line"}, "encoding": {"x": {"field": "b", "type": "quantitative", "axis": {"orient": "top", "title": "SP Area", "domain": false, "ticks": false, "labels": false, "titleX": 147, "titleY": 5, "titleAlign": "center", "titleBaseline": "alphabetic"}}, "stroke": {"field": "s", "type": "nominal", "scale": {"domain": ["30°","75°","150°"], "range": ["#000000","#000000","#808080"]}, "legend": null}, "strokeWidth": {"field": "s", "type": "ordinal", "scale": {"domain": ["30°","75°","150°"], "range": [1, 2.5, 2]}, "legend": null}}},
   {"mark": {"type": "point", "opacity": 1, "size": 45, "strokeWidth": 1}, "encoding": {"x": {"field": "b", "type": "quantitative", "axis": {"orient": "top", "title": "G", "domain": false, "ticks": false, "labels": false, "titleX": -69, "titleY": -19, "titleAlign": "left", "titleBaseline": "alphabetic", "titleFontSize": 20, "titleFontWeight": "bold"}}, "shape": {"field": "s", "type": "nominal", "scale": {"domain": ["30°","75°","150°"], "range": ["diamond","circle","square"]}, "legend": null}, "fill": {"field": "s", "type": "nominal", "scale": {"domain": ["30°","75°","150°"], "range": ["#ffffff","#000000","#606060"]}, "legend": null}, "stroke": {"field": "s", "type": "nominal", "scale": {"domain": ["30°","75°","150°"], "range": ["#000000","#000000","#808080"]}, "legend": null}}}
  ]},
 {"data": {"name": "H"}, "width": 294, "height": 210,
  "resolve": {"axis": {"x": "independent"}},
  "encoding": {"y": {"field": "v", "type": "quantitative", "scale": {"domain": [0, 100], "nice": false}, "title": " ", "axis": {"values": [0,10,20,30,40,50,60,70,80,90,100], "labelExpr": "datum.value % 20 == 0 ? datum.label : ''", "tickSize": {"condition": {"test": "datum.value % 20 != 0", "value": 3}, "value": 5}, "labelOverlap": false, "titlePadding": 8}}},
  "layer": [
   {"mark": {"type": "errorbar", "ticks": true, "color": "#a0a0a0", "thickness": 1}, "encoding": {"x": {"field": "b", "type": "quantitative", "scale": {"domain": [-5, 45], "nice": false}, "axis": {"values": [1,10,20,30,40], "title": "Block of Trials", "titlePadding": 16}}, "yError": {"field": "e"}}},
   {"mark": {"type": "line"}, "encoding": {"x": {"field": "b", "type": "quantitative", "axis": {"orient": "top", "title": "Other Area", "domain": false, "ticks": false, "labels": false, "titleX": 147, "titleY": 5, "titleAlign": "center", "titleBaseline": "alphabetic"}}, "stroke": {"field": "s", "type": "nominal", "scale": {"domain": ["30°","75°","150°"], "range": ["#000000","#000000","#808080"]}, "legend": null}, "strokeWidth": {"field": "s", "type": "ordinal", "scale": {"domain": ["30°","75°","150°"], "range": [1, 2.5, 2]}, "legend": null}}},
   {"mark": {"type": "point", "opacity": 1, "size": 45, "strokeWidth": 1}, "encoding": {"x": {"field": "b", "type": "quantitative", "axis": {"orient": "top", "title": "H", "domain": false, "ticks": false, "labels": false, "titleX": -59, "titleY": -19, "titleAlign": "left", "titleBaseline": "alphabetic", "titleFontSize": 20, "titleFontWeight": "bold"}}, "shape": {"field": "s", "type": "nominal", "scale": {"domain": ["30°","75°","150°"], "range": ["diamond","circle","square"]}, "legend": null}, "fill": {"field": "s", "type": "nominal", "scale": {"domain": ["30°","75°","150°"], "range": ["#ffffff","#000000","#606060"]}, "legend": null}, "stroke": {"field": "s", "type": "nominal", "scale": {"domain": ["30°","75°","150°"], "range": ["#000000","#000000","#808080"]}, "legend": null}}}
  ]}
], "spacing": 0, "resolve": {"scale": {"shape": "independent", "fill": "independent", "stroke": "independent", "strokeWidth": "independent"}}}
]
}
